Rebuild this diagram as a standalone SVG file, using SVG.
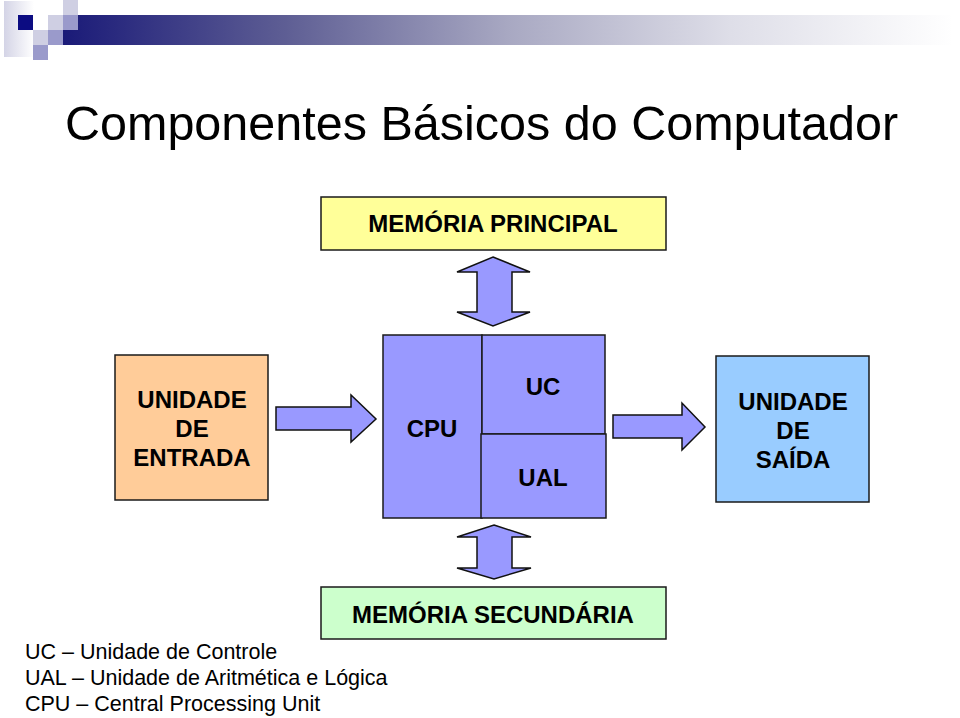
<svg xmlns="http://www.w3.org/2000/svg" width="960" height="718" viewBox="0 0 960 718">
<defs>
<linearGradient id="band" x1="0" y1="0" x2="1" y2="0">
<stop offset="0" stop-color="#1a1a78"/>
<stop offset="0.25" stop-color="#5e5e94"/>
<stop offset="0.5" stop-color="#a8a8c2"/>
<stop offset="0.75" stop-color="#dedee8"/>
<stop offset="1" stop-color="#ffffff"/>
</linearGradient>
<linearGradient id="strip" x1="0" y1="0" x2="1" y2="0">
<stop offset="0" stop-color="#d4d4e6"/>
<stop offset="1" stop-color="#ffffff"/>
</linearGradient>
<style>
.box{stroke:#1a1a1a;stroke-width:1.5}
.arrow{fill:#9999ff;stroke:#111;stroke-width:1.5;stroke-linejoin:miter}
.lbl{font-family:"Liberation Sans",Arial,sans-serif;font-weight:bold;font-size:24px;fill:#000;text-anchor:middle}
.title{font-family:"Liberation Sans",Arial,sans-serif;font-size:48.5px;fill:#000}
.legend{font-family:"Liberation Sans",Arial,sans-serif;font-size:21.5px;fill:#000}
</style>
</defs>
<rect width="960" height="718" fill="#ffffff"/>
<g id="header">
<rect x="4" y="1" width="30" height="56" fill="url(#strip)"/>
<rect x="63" y="15" width="890" height="30" fill="url(#band)"/>
<rect x="18" y="15" width="15" height="15" fill="#0c0c82"/>
<rect x="48" y="15" width="15" height="15" fill="#cfcfe3"/>
<rect x="63" y="0" width="15" height="15" fill="#cfcfe3"/>
<rect x="63" y="15" width="15" height="15" fill="#9a9acb"/>
<rect x="33" y="30" width="15" height="15" fill="#cfcfe3"/>
<rect x="48" y="30" width="15" height="15" fill="#9a9acb"/>
<rect x="33" y="45" width="15" height="15" fill="#9a9acb"/>
</g>
<text class="title" x="65" y="140">Componentes Básicos do Computador</text>
<g id="memoria-principal">
<rect class="box" x="321" y="197" width="345" height="53" fill="#ffff99"/>
<text class="lbl" x="493" y="232">MEMÓRIA PRINCIPAL</text>
</g>
<g id="unidade-entrada">
<rect class="box" x="115" y="355" width="153" height="145" fill="#ffcc99"/>
<text class="lbl" x="192" y="408">UNIDADE</text>
<text class="lbl" x="192" y="437">DE</text>
<text class="lbl" x="192" y="466">ENTRADA</text>
</g>
<g id="cpu">
<rect class="box" x="383" y="335" width="99" height="183" fill="#9999ff"/>
<text class="lbl" x="432" y="437">CPU</text>
</g>
<g id="uc">
<rect class="box" x="482" y="335" width="123" height="99" fill="#9999ff"/>
<text class="lbl" x="543" y="395">UC</text>
</g>
<g id="ual">
<rect class="box" x="481" y="434" width="125" height="84" fill="#9999ff"/>
<text class="lbl" x="543" y="486">UAL</text>
</g>
<g id="unidade-saida">
<rect class="box" x="716" y="356" width="153" height="146" fill="#99ccff"/>
<text class="lbl" x="793" y="410">UNIDADE</text>
<text class="lbl" x="793" y="439">DE</text>
<text class="lbl" x="793" y="468">SAÍDA</text>
</g>
<g id="memoria-secundaria">
<rect class="box" x="321" y="587" width="345" height="52" fill="#ccffcc"/>
<text class="lbl" x="493" y="623">MEMÓRIA SECUNDÁRIA</text>
</g>
<g id="connectors">
<polygon class="arrow" points="493,257 530,272 512,272 512,312 530,312 493,326 457,312 477,312 477,272 457,272"/>
<polygon class="arrow" points="494,525 531,537 512,537 512,568 531,568 494,579 457,568 477,568 477,537 457,537"/>
<polygon class="arrow" points="276,407 351,407 351,395 376,419 351,442 351,430 276,430"/>
<polygon class="arrow" points="613,415 682,415 682,403 705,427 682,450 682,438 613,438"/>
</g>
<g id="legend">
<text class="legend" x="25" y="659">UC – Unidade de Controle</text>
<text class="legend" x="25" y="685">UAL – Unidade de Aritmética e Lógica</text>
<text class="legend" x="25" y="711">CPU – Central Processing Unit</text>
</g>
</svg>
